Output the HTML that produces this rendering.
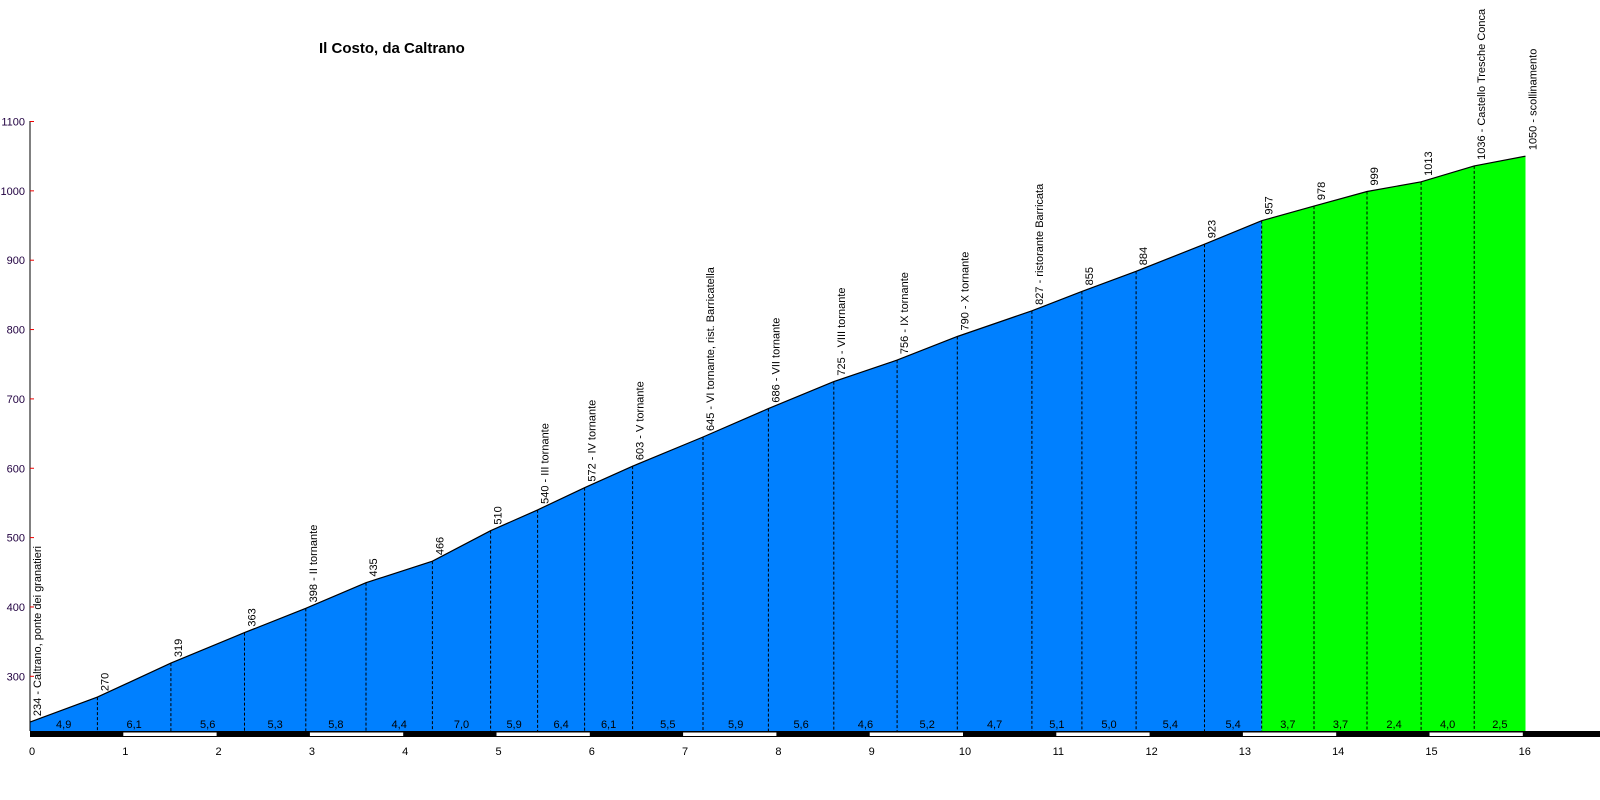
<!DOCTYPE html>
<html><head><meta charset="utf-8"><style>
html,body{margin:0;padding:0;background:#fff;}
svg{display:block;font-family:"Liberation Sans",Arial,sans-serif;}
</style></head><body>
<svg width="1600" height="800" viewBox="0 0 1600 800" xmlns="http://www.w3.org/2000/svg">
<text x="319" y="53" font-size="15" font-weight="bold" fill="#000">Il Costo, da Caltrano</text>
<g id="g"></g>
</svg>
<script>
const pts=[[30,234,"234 - Caltrano, ponte dei granatieri"],[97.4,270,"270"],[170.9,319,"319"],[244.5,363,"363"],[305.8,398,"398 - II tornante"],[366,435,"435"],[432.4,466,"466"],[490.6,510,"510"],[537.6,540,"540 - III tornante"],[584.6,572,"572 - IV tornante"],[632.6,603,"603 - V tornante"],[703,645,"645 - VI tornante, rist. Barricatella"],[768.4,686,"686 - VII tornante"],[833.8,725,"725 - VIII tornante"],[897.1,756,"756 - IX tornante"],[957.3,790,"790 - X tornante"],[1031.9,827,"827 - ristorante Barricata"],[1081.9,855,"855"],[1136.1,884,"884"],[1204.5,923,"923"],[1261.7,957,"957"],[1314,978,"978"],[1367,999,"999"],[1421.1,1013,"1013"],[1474.2,1036,"1036 - Castello Tresche Conca"],[1525.5,1050,"1050 - scollinamento"]];
const grads=["4,9","6,1","5,6","5,3","5,8","4,4","7,0","5,9","6,4","6,1","5,5","5,9","5,6","4,6","5,2","4,7","5,1","5,0","5,4","5,4","3,7","3,7","2,4","4,0","2,5"];
const Y=e=>121.5+(1100-e)*0.6935, B=731;
let s="";
let blue=[],green=[];
pts.forEach((p,i)=>{if(i<=20)blue.push(p);if(i>=20)green.push(p);});
const poly=a=>a.map(p=>p[0]+","+Y(p[1]).toFixed(1)).join(" ")+" "+a[a.length-1][0]+","+B+" "+a[0][0]+","+B;
s+=`<polygon points="${poly(blue)}" fill="#0080ff"/>`;
s+=`<polygon points="${poly(green)}" fill="#00ff00"/>`;
s+=`<polyline points="${pts.map(p=>p[0]+","+Y(p[1]).toFixed(1)).join(" ")}" fill="none" stroke="#000" stroke-width="1.2"/>`;
pts.forEach((p,i)=>{const y=Y(p[1]);
 if(i>0&&i<pts.length-1)s+=`<line x1="${p[0]}" y1="${y}" x2="${p[0]}" y2="${B}" stroke="#000" stroke-dasharray="3,2"/>`;
 s+=`<text transform="translate(${p[0]+11},${y-6}) rotate(-90)" font-size="11" fill="#000">${p[2]}</text>`;
 if(i<pts.length-1)s+=`<text x="${(p[0]+pts[i+1][0])/2}" y="728" font-size="11" text-anchor="middle" fill="#000">${grads[i]}</text>`;
});
s+=`<rect x="30" y="731" width="1570" height="6" fill="#000"/>`;
for(let k=0;k<=16;k++){const x=30+93.3*k;
 if(k%2==1&&k<16)s+=`<rect x="${x}" y="732.5" width="93.3" height="3.5" fill="#fff"/>`;
 s+=`<text x="${x+2}" y="755" font-size="11" text-anchor="middle" fill="#000">${k}</text>`;}
s+=`<line x1="30" y1="121" x2="30" y2="731" stroke="#000"/>`;
for(let e=300;e<=1100;e+=100){const y=Y(e);
 s+=`<line x1="30" y1="${y}" x2="34" y2="${y}" stroke="#e00"/>`;
 s+=`<text x="25" y="${y+4}" font-size="11" text-anchor="end" fill="#200040">${e}</text>`;}
document.getElementById("g").innerHTML=s;
</script>
</body></html>
